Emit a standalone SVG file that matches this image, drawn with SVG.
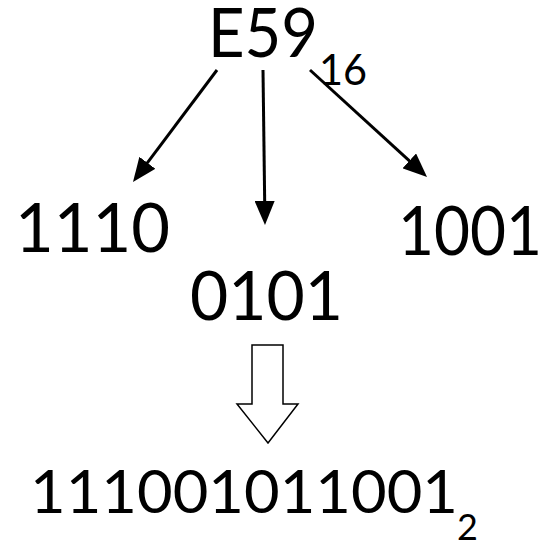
<svg xmlns="http://www.w3.org/2000/svg" width="554" height="545" viewBox="0 0 554 545">
<defs>
<style>
text { font-family: Lato, "Open Sans", "Liberation Sans", sans-serif; fill: #000; }
.big { font-size: 67px; }
.sub { font-size: 42px; }
.conn { stroke: #000; stroke-width: 3; fill: none; marker-end: url(#ah); }
</style>
<marker id="ah" markerUnits="userSpaceOnUse" markerWidth="26" markerHeight="20" refX="2" refY="10" orient="auto">
<path d="M0,0 L24,10 L0,20 z" fill="#000"/>
</marker>
</defs>
<rect width="554" height="545" fill="#fff"/>
<g id="hex">
<text class="big" x="208" y="57" textLength="110" lengthAdjust="spacingAndGlyphs">E59</text>
<text class="sub" x="319" y="85" textLength="48" lengthAdjust="spacingAndGlyphs">16</text>
</g>
<g id="n1110"><text class="big" x="15" y="252" textLength="155" lengthAdjust="spacingAndGlyphs">1110</text></g>
<g id="n0101"><text class="big" x="190" y="320" textLength="153" lengthAdjust="spacingAndGlyphs">0101</text></g>
<g id="n1001"><text class="big" x="398" y="255" textLength="144" lengthAdjust="spacingAndGlyphs">1001</text></g>
<g id="result">
<text class="big" style="font-size:60px" x="30" y="513" textLength="428" lengthAdjust="spacingAndGlyphs">111001011001</text>
<text class="sub" style="font-size:36px" x="457" y="540">2</text>
</g>
<g id="connectors">
<line class="conn" x1="217" y1="70" x2="146.2" y2="164.4"/>
<line class="conn" x1="263" y1="70" x2="264.7" y2="203"/>
<line class="conn" x1="310" y1="70" x2="410.8" y2="162.2"/>
<path id="block-arrow" d="M252,345 H283 V404 H298 L268,443 L237,404 H252 Z" fill="#fff" stroke="#000" stroke-width="1.5"/>
</g>
</svg>
